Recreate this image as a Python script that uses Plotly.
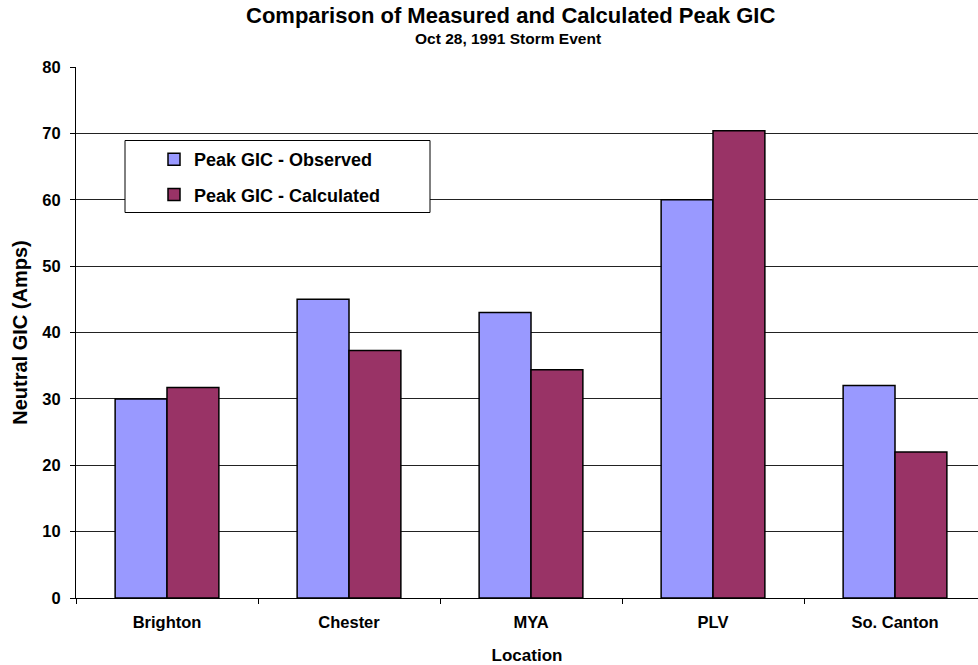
import plotly.graph_objects as go

# Peak geomagnetically induced current per substation, Oct 28 1991 storm
locations = ["Brighton", "Chester", "MYA", "PLV", "So. Canton"]
observed = [30.0, 45.0, 43.0, 60.0, 32.0]
calculated = [31.7, 37.3, 34.4, 70.4, 22.0]
y_ticks = [0, 10, 20, 30, 40, 50, 60, 70, 80]

FONT = "Liberation Sans, Arial, sans-serif"

# plot-area geometry in pixels
L, T, B, W, H = 76, 67, 598, 902, 531


def px_x(x):
    return (x - L) / W


def px_y(y):
    return (B - y) / H


fig = go.Figure()
fig.add_trace(go.Bar(
    x=locations, y=observed, name="Peak GIC - Observed",
    marker=dict(color="#9999FF", line=dict(color="black", width=1.5)),
    legendgroup="obs",
))
fig.add_trace(go.Bar(
    x=locations, y=calculated, name="Peak GIC - Calculated",
    marker=dict(color="#993366", line=dict(color="black", width=1.5)),
    legendgroup="calc",
))

# Legend frame (white box with black border)
fig.add_shape(type="rect", xref="paper", yref="paper",
              x0=px_x(125), x1=px_x(430), y0=px_y(212.5), y1=px_y(140.5),
              fillcolor="white", line=dict(color="black", width=1), layer="above")

# Title and subtitle
fig.add_annotation(text="Comparison of Measured and Calculated Peak GIC",
                   xref="paper", yref="paper", x=px_x(510), y=px_y(15),
                   xanchor="center", yanchor="middle", showarrow=False,
                   font=dict(family=FONT, size=22, color="black", weight="bold"))
fig.add_annotation(text="Oct 28, 1991 Storm Event",
                   xref="paper", yref="paper", x=px_x(508), y=px_y(39),
                   xanchor="center", yanchor="middle", showarrow=False,
                   font=dict(family=FONT, size=15.5, color="black", weight="bold"))

fig.update_layout(
    width=978, height=665,
    margin=dict(l=L, r=978 - L - W, t=T, b=665 - B),
    paper_bgcolor="white", plot_bgcolor="white",
    barmode="group", bargap=0.43, bargroupgap=0.0,
    font=dict(family=FONT, color="black", size=16, weight="bold"),
    showlegend=True,
    legend=dict(
        x=px_x(154), y=px_y(141), xanchor="left", yanchor="top",
        bgcolor="rgba(0,0,0,0)", borderwidth=0,
        font=dict(family=FONT, size=18, color="black", weight="bold"),
        tracegroupgap=9, traceorder="grouped",
    ),
    xaxis=dict(
        range=[-0.5, 4.5 - 8 / 182],
        showline=True, linecolor="black", linewidth=1,
        ticks="outside", tickson="boundaries", ticklen=5, tickcolor="black",
        showgrid=False,
        tickfont=dict(family=FONT, size=16.5, weight="bold"),
        ticklabelstandoff=9,
        title=dict(text="Location", standoff=19,
                   font=dict(family=FONT, size=17, weight="bold")),
    ),
    yaxis=dict(
        range=[0, 80], tickvals=y_ticks,
        showline=True, linecolor="black", linewidth=1,
        ticks="outside", ticklen=5, tickcolor="black",
        showgrid=True, gridcolor="#222222", gridwidth=1,
        zeroline=False,
        tickfont=dict(family=FONT, size=16.5, weight="bold"),
        ticklabelstandoff=6,
        title=dict(text="Neutral GIC (Amps)", standoff=9,
                   font=dict(family=FONT, size=20, weight="bold")),
    ),
)

fig.write_html("out.html")
